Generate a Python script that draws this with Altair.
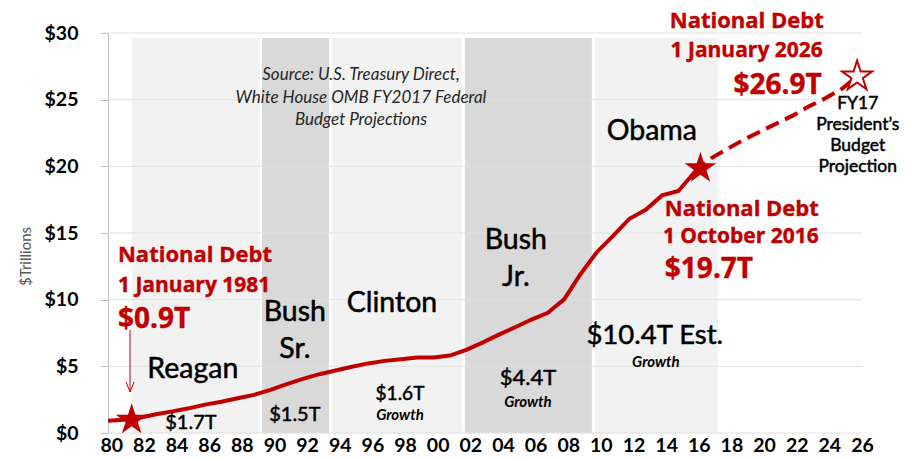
import altair as alt
import pandas as pd

# ---------------- data ----------------
fiscal_years = list(range(1980, 2017))
debt_trillions = [0.91, 1.00, 1.14, 1.40, 1.62, 1.85, 2.13, 2.35, 2.60, 2.86,
                  3.23, 3.67, 4.06, 4.41, 4.69, 4.97, 5.22, 5.41, 5.53, 5.66,
                  5.67, 5.81, 6.23, 6.78, 7.38, 7.93, 8.51, 9.01, 10.02, 11.91,
                  13.56, 14.79, 16.07, 16.74, 17.82, 18.15, 19.57]

proj_years = list(range(2016, 2027))
proj_trillions = [19.57, 20.6, 21.3, 22.0, 22.6, 23.2, 23.8, 24.5, 25.1, 25.8, 26.8]

# fiscal-year-end values sit a quarter year left of the year tick on this axis
fy_offset = -0.25

band_names = ["Reagan", "Bush Sr.", "Clinton", "Bush Jr.", "Obama"]
band_start = [1981.27, 1989.23, 1993.52, 2001.67, 2009.63]
band_end = [1989.11, 1993.34, 2001.48, 2009.45, 2017.17]
band_shade = ["light", "dark", "light", "dark", "light"]
band_top = 29.63

y_ticks = [0, 5, 10, 15, 20, 25, 30]
x_ticks = list(range(1980, 2027, 2))

filled_star_x = [1981.25, 2016.1]
filled_star_y = [0.98, 19.85]
hollow_star_x = [2025.7]
hollow_star_y = [26.75]

arrow_x = 1981.15
arrow_from = 7.73
arrow_to = 3.08

# annotations: text, x (year), y (trillions), font size, group
annotations = [
    ("National Debt", 1980.41, 13.35, 22, "red_left"),
    ("1 January 1981", 1980.41, 11.03, 21, "red_left"),
    ("$0.9T", 1980.41, 8.48, 28, "red_left"),
    ("National Debt", 2013.92, 16.8, 22, "red_left"),
    ("1 October 2016", 2013.80, 14.7, 21, "red_left"),
    ("$19.7T", 2013.92, 12.23, 28, "red_left"),
    ("National Debt", 2023.66, 30.9, 22, "red_right"),
    ("1 January 2026", 2023.60, 28.65, 21, "red_right"),
    ("$26.9T", 2023.53, 26.03, 28, "red_right"),
    ("Reagan", 1985.0, 4.8, 28.5, "black"),
    ("Bush", 1991.25, 9.08, 28.5, "black"),
    ("Sr.", 1991.25, 6.3, 28.5, "black"),
    ("Clinton", 1997.2, 9.75, 28.5, "black"),
    ("Bush", 2004.79, 14.48, 28.5, "black"),
    ("Jr.", 2004.79, 11.7, 28.5, "black"),
    ("Obama", 2013.12, 22.65, 28.5, "black"),
    ("$10.4T Est.", 2013.3, 7.28, 27.5, "black"),
    ("$1.7T", 1984.88, 0.75, 20, "black"),
    ("$1.5T", 1991.25, 1.35, 20, "black"),
    ("$1.6T", 1997.69, 2.93, 19, "black"),
    ("$4.4T", 2005.53, 4.13, 22, "black"),
    ("FY17", 2025.74, 24.68, 17.5, "black"),
    ("President\u2019s", 2025.74, 23.1, 17.5, "black"),
    ("Budget", 2025.74, 21.53, 17.5, "black"),
    ("Projection", 2025.74, 19.95, 17.5, "black"),
    ("Growth", 1997.69, 1.35, 15, "growth"),
    ("Growth", 2005.53, 2.33, 15, "growth"),
    ("Growth", 2013.37, 5.33, 15, "growth"),
    ("Source: U.S. Treasury Direct,", 1995.3, 26.85, 17, "source"),
    ("White House  OMB FY2017 Federal", 1995.3, 25.09, 17, "source"),
    ("Budget Projections", 1995.3, 23.51, 17, "source"),
]

# ---------------- tables ----------------
RED = "#c00000"
STAR = ("M0,-1L0.2245,-0.309L0.951,-0.309L0.3633,0.118L0.588,0.809L0,0.382"
        "L-0.588,0.809L-0.3633,0.118L-0.951,-0.309L-0.2245,-0.309Z")

hist = pd.DataFrame({"x": [y + fy_offset for y in fiscal_years], "y": debt_trillions})
proj = pd.DataFrame({"x": [y + fy_offset for y in proj_years], "y": proj_trillions})
bands = pd.DataFrame({"name": band_names, "x": band_start, "x2": band_end,
                      "shade": band_shade, "y": 0.0, "y2": band_top})
grid = pd.DataFrame({"y": [float(v) for v in y_ticks]})
fstars = pd.DataFrame({"x": filled_star_x, "y": filled_star_y})
hstars = pd.DataFrame({"x": hollow_star_x, "y": hollow_star_y})
arrow = pd.DataFrame({"x": [arrow_x], "y": [arrow_from], "y2": [arrow_to]})
arrow_head = pd.DataFrame({"x": [arrow_x], "y": [arrow_to]})
ann = pd.DataFrame(annotations, columns=["text", "x", "y", "size", "group"])

xs = alt.Scale(domain=[1979.8, 2026], nice=False, zero=False)
ys = alt.Scale(domain=[0, 30], nice=False, zero=True)

x_axis = alt.Axis(orient="bottom", values=x_ticks,
                  labelExpr="substring(toString(datum.value), 2, 4)",
                  title=None, domain=False, ticks=False, grid=False,
                  labelFont="Lato", labelFontSize=19.5, labelFontWeight="bold",
                  labelColor="#000000", labelPadding=3, labelFlush=False,
                  labelOverlap=False, labelBound=False)
y_axis = alt.Axis(orient="left", values=y_ticks, labelExpr="'$' + datum.value",
                  title="$Trillions",
                  titleFont="Lato", titleFontSize=15, titleFontWeight="normal",
                  titleColor="#595959", titleAngle=270, titleX=-83, titleY=223,
                  titleAlign="center", titleBaseline="middle",
                  domain=True, domainColor="#bfbfbf", ticks=True, tickSize=8,
                  tickColor="#bfbfbf", grid=False, labelFont="Lato", labelFontSize=19.5,
                  labelFontWeight="bold", labelColor="#000000", labelPadding=22)

X = alt.X("x:Q", scale=xs, axis=x_axis)
Y = alt.Y("y:Q", scale=ys, axis=y_axis)

band_layer = alt.Chart(bands).mark_rect().encode(
    x=X, x2="x2:Q", y=Y, y2="y2:Q",
    color=alt.Color("shade:N", scale=alt.Scale(domain=["light", "dark"],
                                               range=["#f2f2f2", "#d9d9d9"]), legend=None),
)

grid_layer = alt.Chart(grid).mark_rule(color="#e0e0e0", strokeWidth=1).encode(y=Y)

hist_layer = alt.Chart(hist).mark_line(color=RED, strokeWidth=4, clip=True).encode(x=X, y=Y)

proj_layer = alt.Chart(proj).mark_line(color=RED, strokeWidth=4, strokeDash=[14, 7],
                                       clip=True).encode(x=X, y=Y)

filled_stars = alt.Chart(fstars).mark_point(
    shape=STAR, filled=True, color=RED, size=1100, opacity=1
).encode(x=X, y=Y)

hollow_stars = alt.Chart(hstars).mark_point(
    shape=STAR, filled=True, fill="#ffffff", stroke=RED, strokeWidth=2, size=1000, opacity=1
).encode(x=X, y=Y)

arrow_layer = alt.Chart(arrow).mark_rule(color=RED, strokeWidth=1).encode(
    x=X, y=Y, y2="y2:Q"
)
arrow_head_layer = alt.Chart(arrow_head).mark_point(
    shape="M-0.4,-1L0,0L0.4,-1", filled=False, stroke=RED, strokeWidth=1, size=400, opacity=1
).encode(x=X, y=Y)


def text_layer(group, font, weight, style, align, color, stroke_w=0.0):
    sub = ann[ann["group"] == group].reset_index(drop=True)
    props = dict(font=font, fontWeight=weight, fontStyle=style, align=align,
                 baseline="middle", color=color)
    if stroke_w > 0:
        props.update(stroke=color, strokeWidth=stroke_w)
    return alt.Chart(sub).mark_text(**props).encode(
        x=X, y=Y, text="text:N",
        size=alt.Size("size:Q", scale=None, legend=None),
    )


texts = [
    text_layer("red_left", "Open Sans", "bold", "normal", "left", RED, 0.4),
    text_layer("red_right", "Open Sans", "bold", "normal", "right", RED, 0.4),
    text_layer("black", "Lato", "normal", "normal", "center", "#000000", 0.5),
    text_layer("growth", "Lato", "bold", "italic", "center", "#000000"),
    text_layer("source", "Lato", "normal", "italic", "center", "#262626"),
]

chart = alt.layer(
    band_layer, grid_layer, hist_layer, proj_layer, arrow_layer, arrow_head_layer,
    filled_stars, hollow_stars, *texts
).properties(
    width=754, height=400,
    padding={"left": 108, "top": 33, "right": 50, "bottom": 26},
    autosize=alt.AutoSizeParams(type="none"),
).configure_view(strokeWidth=0)

chart.save("out.html", embed_options={"renderer": "svg", "actions": False})
